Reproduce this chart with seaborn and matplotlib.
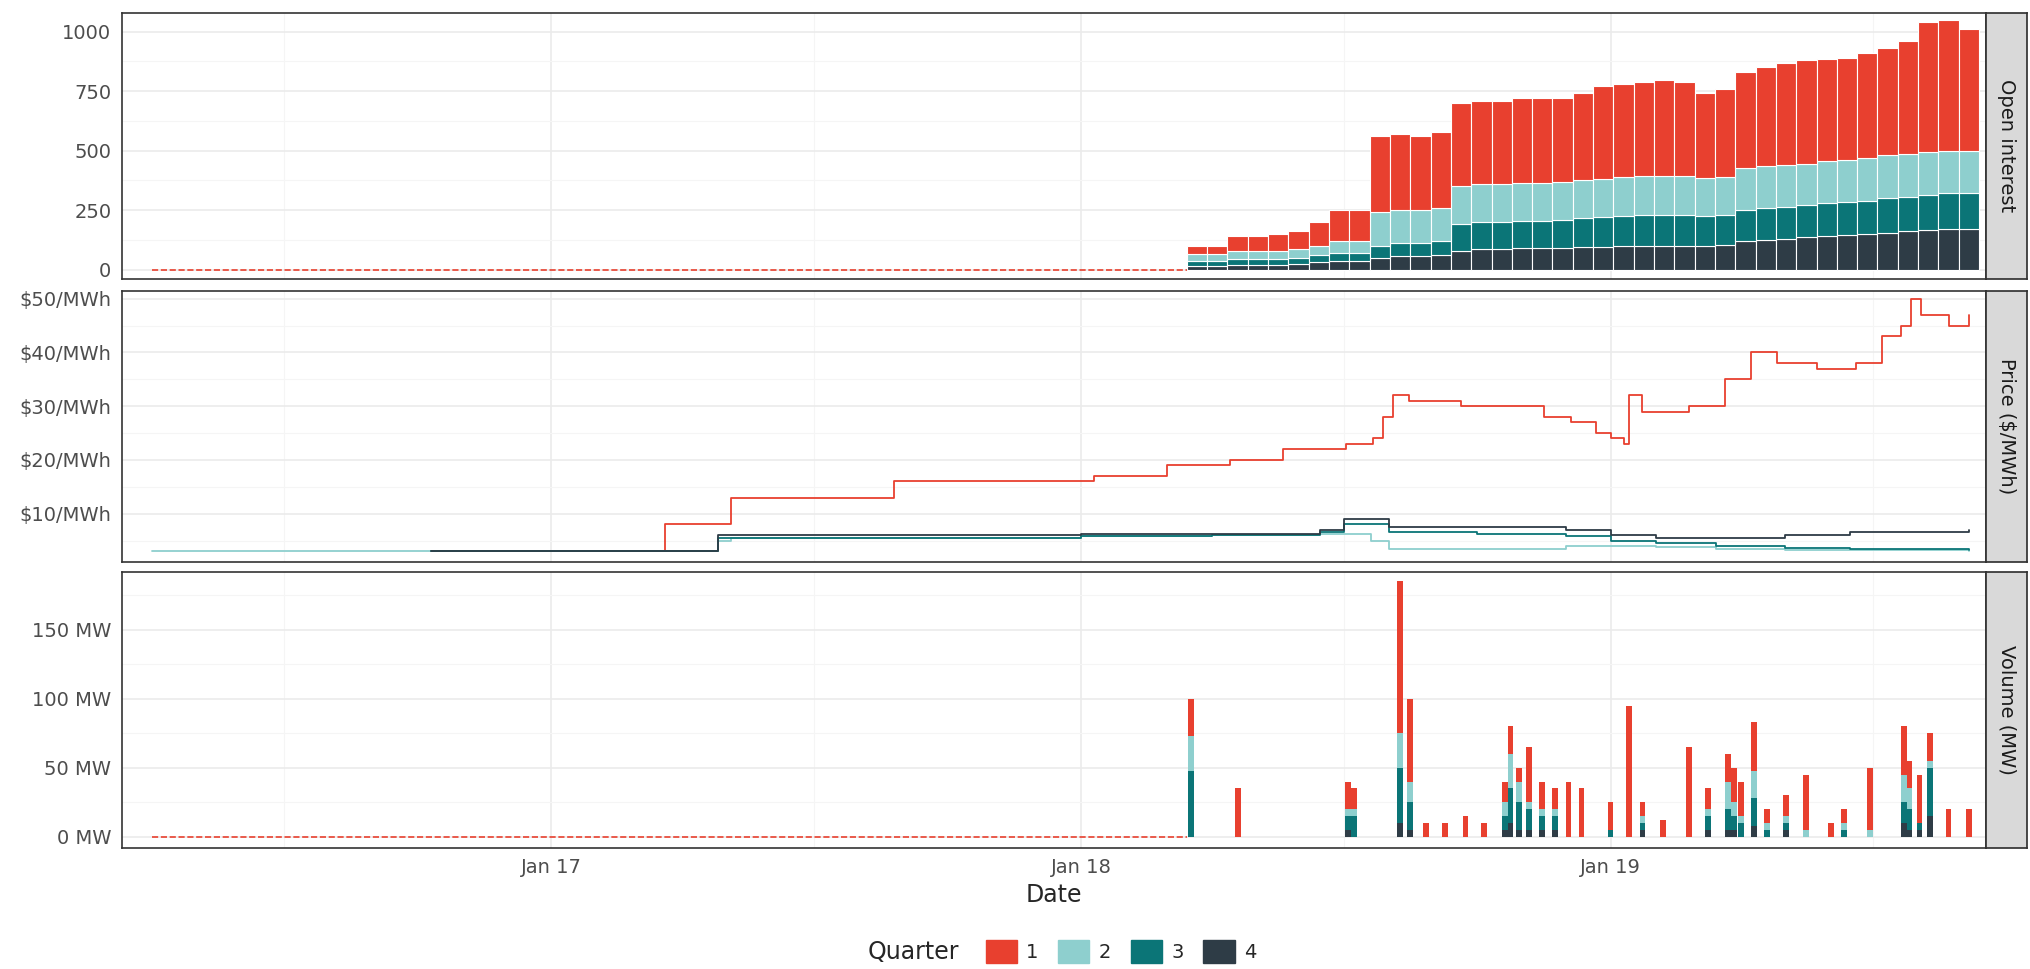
import pandas as pd
import numpy as np
import matplotlib
matplotlib.use('Agg')
import matplotlib.pyplot as plt
import matplotlib.dates as mdates
import seaborn as sns

colors = {1: '#E8402F', 2: '#8ECFCE', 3: '#0B7577', 4: '#2E3C46'}

# Open interest, bars every two weeks from 2018-03-15
oi_dates = pd.date_range('2018-03-15', periods=39, freq='14D')
oi_q4 = [15, 15, 20, 20, 20, 25, 30, 35, 35, 50, 55, 55, 60, 80, 85, 85, 90, 90, 90, 95, 95, 100, 100, 100,
         100, 100, 105, 120, 125, 130, 135, 140, 145, 150, 155, 160, 165, 170, 170]
oi_q3 = [20, 20, 25, 25, 25, 25, 30, 35, 35, 50, 55, 55, 60, 110, 115, 115, 115, 115, 120, 120, 125, 125, 130, 130,
         130, 125, 125, 130, 135, 135, 135, 140, 140, 140, 145, 145, 150, 150, 150]
oi_q2 = [30, 30, 35, 35, 35, 35, 40, 50, 50, 140, 140, 140, 140, 160, 160, 160, 160, 160, 160, 160, 160, 165, 165, 165,
         165, 160, 160, 175, 175, 175, 175, 175, 175, 180, 180, 180, 180, 180, 180]
oi_q1 = [35, 35, 60, 60, 70, 75, 100, 130, 130, 320, 320, 310, 320, 350, 350, 350, 355, 355, 350, 365, 390, 390, 395, 400,
         395, 355, 370, 405, 415, 430, 435, 430, 430, 440, 450, 475, 545, 550, 510]

# Prices ($/MWh), step series
p1_dates = ['2017-03-14', '2017-03-20', '2017-05-05', '2017-08-25', '2017-11-01', '2018-01-10', '2018-03-01',
            '2018-04-14', '2018-05-20', '2018-07-03', '2018-07-21', '2018-07-28', '2018-08-04', '2018-08-15',
            '2018-09-01', '2018-09-20', '2018-10-20', '2018-11-16', '2018-12-05', '2018-12-22', '2019-01-01',
            '2019-01-10', '2019-01-14', '2019-01-23', '2019-02-05', '2019-02-24', '2019-03-21', '2019-04-08',
            '2019-04-26', '2019-05-23', '2019-06-19', '2019-07-07', '2019-07-20', '2019-07-27', '2019-08-03',
            '2019-08-22', '2019-09-05']
p1_vals = [3, 8, 13, 16, 16, 17, 19, 20, 22, 23, 24, 28, 32, 31, 31, 30, 30, 28, 27, 25, 24, 23, 32, 29,
           29, 30, 35, 40, 38, 37, 38, 43, 45, 50, 47, 45, 47]
p_dates = ['2016-04-01', '2016-10-10', '2017-04-26', '2017-05-05', '2017-09-01', '2018-01-01', '2018-04-01',
           '2018-06-15', '2018-07-01', '2018-07-20', '2018-08-01', '2018-10-01', '2018-12-01', '2019-01-01',
           '2019-02-01', '2019-03-15', '2019-05-01', '2019-06-15', '2019-09-05']
p2_vals = [3, 3, 5, 5.5, 5.5, 5.8, 6, 6.3, 6.3, 5, 3.5, 3.5, 4, 4, 3.8, 3.5, 3.3, 3.2, 3]
p3_vals = [np.nan, 3, 5.5, 5.5, 5.5, 5.8, 6, 6.5, 8, 8, 6.5, 6.3, 5.8, 5, 4.5, 4, 3.6, 3.4, 3.2]
p4_vals = [np.nan, 3, 6, 6, 6, 6.2, 6.3, 7, 9, 9, 7.5, 7.5, 7, 6, 5.5, 5.5, 6, 6.5, 7]

# Volume (MW) spikes
vol_dates = ['2018-03-18', '2018-04-19', '2018-07-04', '2018-07-08', '2018-08-09', '2018-08-16', '2018-08-27',
             '2018-09-09', '2018-09-23', '2018-10-06', '2018-10-20', '2018-10-24', '2018-10-30', '2018-11-06',
             '2018-11-15', '2018-11-24', '2018-12-03', '2018-12-12', '2019-01-01', '2019-01-14', '2019-01-23',
             '2019-02-06', '2019-02-24', '2019-03-09', '2019-03-23', '2019-03-27', '2019-04-01', '2019-04-10',
             '2019-04-19', '2019-05-02', '2019-05-16', '2019-06-02', '2019-06-11', '2019-06-29', '2019-07-22',
             '2019-07-26', '2019-08-02', '2019-08-09', '2019-08-22', '2019-09-05']
vol_q1 = [27, 35, 20, 15, 110, 60, 10, 10, 15, 10, 15, 20, 10, 40, 20, 15, 40, 35, 20, 95, 10, 12, 65, 15,
          20, 25, 25, 35, 10, 15, 40, 10, 10, 45, 35, 20, 35, 20, 20, 20]
vol_q2 = [25, 0, 5, 5, 25, 15, 0, 0, 0, 0, 10, 25, 15, 5, 5, 5, 0, 0, 0, 0, 5, 0, 0, 5, 20, 10, 5, 20, 5,
          5, 5, 0, 5, 5, 20, 15, 0, 5, 0, 0]
vol_q3 = [48, 0, 10, 15, 40, 20, 0, 0, 0, 0, 10, 25, 20, 15, 10, 10, 0, 0, 5, 0, 5, 0, 0, 10, 15, 10, 10, 20,
          5, 5, 0, 0, 5, 0, 15, 15, 5, 35, 0, 0]
vol_q4 = [0, 0, 5, 0, 10, 5, 0, 0, 0, 0, 5, 10, 5, 5, 5, 5, 0, 0, 0, 0, 5, 0, 0, 5, 5, 5, 0, 8, 0, 5, 0, 0,
          0, 0, 10, 5, 5, 15, 0, 0]

sns.set_theme(style='whitegrid')
plt.rcParams['font.family'] = ['DejaVu Sans']

fig = plt.figure(figsize=(20.31, 9.69), dpi=100)
L, R, S = 0.06, 0.978, 0.02
ax1 = fig.add_axes([L, 0.712, R - L, 0.275])
ax2 = fig.add_axes([L, 0.42, R - L, 0.28], sharex=ax1)
ax3 = fig.add_axes([L, 0.125, R - L, 0.285], sharex=ax1)

start0, end0 = pd.Timestamp('2016-04-01'), pd.Timestamp('2018-03-15')

# Open interest
bottom = np.zeros(len(oi_dates))
for q, vals in [(4, oi_q4), (3, oi_q3), (2, oi_q2), (1, oi_q1)]:
    ax1.bar(oi_dates, vals, bottom=bottom, width=14, align='edge', color=colors[q],
            edgecolor='white', linewidth=0.8)
    bottom += np.array(vals)
ax1.plot([start0, end0], [0, 0], color=colors[1], ls='--', lw=1.2)
ax1.set_ylim(-40, 1080)
ax1.set_yticks([0, 250, 500, 750, 1000])

# Price
price = pd.concat([
    pd.DataFrame({'date': pd.to_datetime(p1_dates), 'price': p1_vals, 'Quarter': '1'}),
    pd.DataFrame({'date': pd.to_datetime(p_dates), 'price': p2_vals, 'Quarter': '2'}),
    pd.DataFrame({'date': pd.to_datetime(p_dates), 'price': p3_vals, 'Quarter': '3'}),
    pd.DataFrame({'date': pd.to_datetime(p_dates), 'price': p4_vals, 'Quarter': '4'}),
]).dropna()
sns.lineplot(data=price, x='date', y='price', hue='Quarter', ax=ax2, drawstyle='steps-post',
             palette={str(k): v for k, v in colors.items()}, legend=False, lw=1.3, estimator=None)
ax2.set_ylim(1, 51.5)
ax2.set_yticks([10, 20, 30, 40, 50])
ax2.set_yticklabels([f'${v}/MWh' for v in [10, 20, 30, 40, 50]])

# Volume
vd = pd.to_datetime(vol_dates)
bottom = np.zeros(len(vd))
for q, vals in [(4, vol_q4), (3, vol_q3), (2, vol_q2), (1, vol_q1)]:
    ax3.bar(vd, vals, bottom=bottom, width=4, color=colors[q], linewidth=0)
    bottom += np.array(vals)
ax3.plot([start0, end0], [0, 0], color=colors[1], ls='--', lw=1.2)
ax3.set_ylim(-8, 192)
ax3.set_yticks([0, 50, 100, 150])
ax3.set_yticklabels([f'{v} MW' for v in [0, 50, 100, 150]])

ax3.set_xlim(pd.Timestamp('2016-03-11'), pd.Timestamp('2019-09-17'))
ax3.xaxis.set_major_locator(mdates.YearLocator())
ax3.xaxis.set_minor_locator(mdates.MonthLocator(bymonth=7))
ax3.xaxis.set_major_formatter(mdates.DateFormatter('Jan %y'))
ax3.set_xlabel('Date', fontsize=17)

for ax, name in [(ax1, 'Open interest'), (ax2, 'Price ($/MWh)'), (ax3, 'Volume (MW)')]:
    ax.set_ylabel('')
    if ax is not ax3:
        ax.set_xlabel('')
        plt.setp(ax.get_xticklabels(), visible=False)
    ax.tick_params(labelsize=14, colors='#4D4D4D', length=4)
    ax.grid(True, which='major', color='#EBEBEB', lw=1.2)
    ax.grid(True, which='minor', color='#F5F5F5', lw=0.8)
    ax.yaxis.set_minor_locator(matplotlib.ticker.AutoMinorLocator(2))
    for s in ax.spines.values():
        s.set_color('#333333')
        s.set_linewidth(1.2)
    pos = ax.get_position()
    sax = fig.add_axes([pos.x1, pos.y0, S, pos.height])
    sax.set_facecolor('#D9D9D9')
    sax.set_xticks([]); sax.set_yticks([])
    for s in sax.spines.values():
        s.set_color('#333333')
    sax.text(0.5, 0.5, name, rotation=-90, ha='center', va='center', fontsize=14, color='#1A1A1A',
             transform=sax.transAxes)
ax3.tick_params(axis='x', labelsize=14)

handles = [plt.Rectangle((0, 0), 1, 1, color=colors[q]) for q in [1, 2, 3, 4]]
fig.legend(handles, ['1', '2', '3', '4'], loc='center', ncol=4,
           bbox_to_anchor=(0.552, 0.018), frameon=False, fontsize=14,
           handlelength=1.6, handleheight=1.5, columnspacing=1.0, handletextpad=0.5)
fig.text(0.472, 0.018, 'Quarter', ha='right', va='center', fontsize=17)
fig.savefig('out.png', dpi=100)
